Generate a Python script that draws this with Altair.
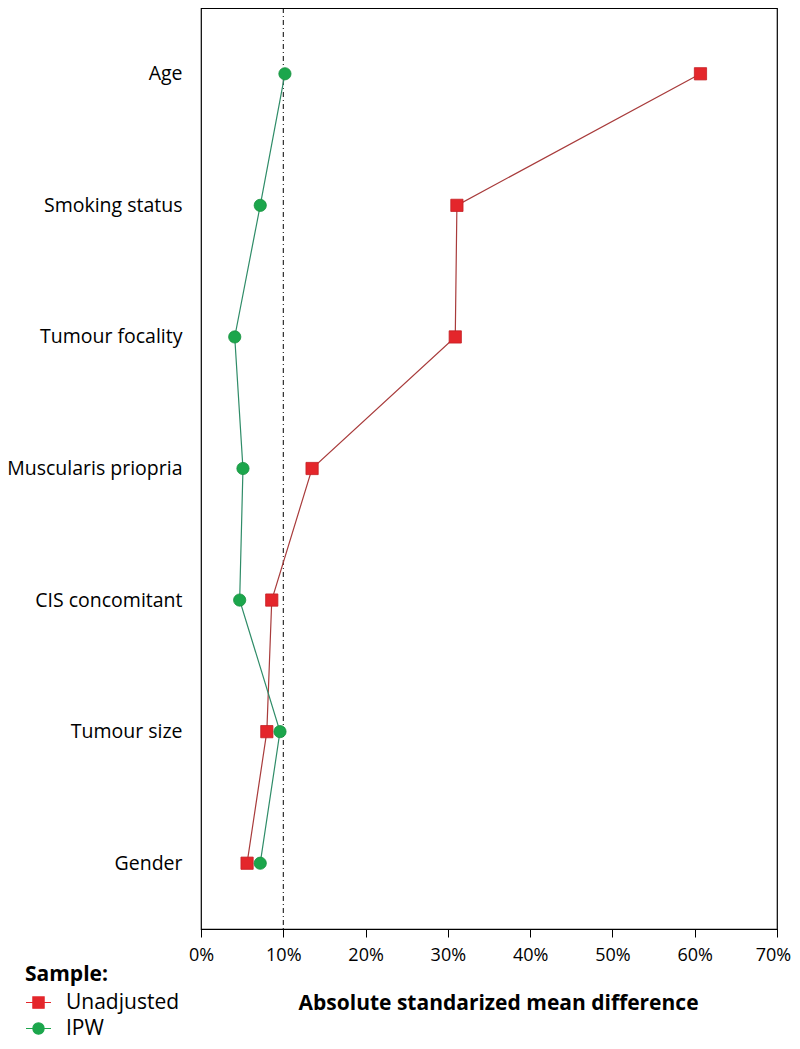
import altair as alt
import pandas as pd

categories = ["Age", "Smoking status", "Tumour focality", "Muscularis priopria",
              "CIS concomitant", "Tumour size", "Gender"]
unadjusted = [60.7, 31.1, 30.9, 13.5, 8.6, 8.0, 5.6]
ipw = [10.2, 7.2, 4.1, 5.1, 4.7, 9.6, 7.2]
samples = ["Unadjusted", "IPW"]
threshold = [10]
x_ticks = [0, 10, 20, 30, 40, 50, 60, 70]

RED = "#e4262b"
RED_LINE = "#a83b3b"
GREEN = "#1ca64c"
GREEN_LINE = "#2f8c68"
FONT = "Open Sans"

rows = []
for i, c in enumerate(categories):
    rows.append({"variable": c, "sample": "Unadjusted", "value": unadjusted[i] / 100, "order": i})
    rows.append({"variable": c, "sample": "IPW", "value": ipw[i] / 100, "order": i})
df = pd.DataFrame(rows)

xscale = alt.Scale(domain=[0, 0.7], nice=False)
yscale = alt.Scale(type="point", padding=0.5, domain=categories)

xenc = alt.X("value:Q", scale=xscale,
             axis=alt.Axis(values=[t / 100 for t in x_ticks], format=".0%", grid=False,
                           title="Absolute standarized mean difference",
                           titleFont=FONT, titleFontSize=21, titleFontWeight="bold",
                           titleAlign="left", titleX=97, titleY=74, titleBaseline="middle",
                           titleColor="black",
                           labelFont=FONT, labelFontSize=18, labelColor="black",
                           labelPadding=9, tickSize=8, tickColor="black",
                           labelOffset={"expr": "datum.value >= 0.69 ? -4 : 0"},
                           domainColor="black", labelFlush=False))
yenc = alt.Y("variable:N", scale=yscale, sort=categories,
             axis=alt.Axis(title=None, ticks=False, domain=False, grid=False,
                           labelFont=FONT, labelFontSize=19.5, labelColor="black",
                           labelPadding=19))

base = alt.Chart(df)

rule = alt.Chart(pd.DataFrame({"value": [t / 100 for t in threshold]})).mark_rule(
    color="black", strokeWidth=1, strokeDash=[5, 3, 1, 3]
).encode(x=alt.X("value:Q", scale=xscale))

line_u = base.transform_filter(alt.datum.sample == "Unadjusted").mark_line(
    color=RED_LINE, strokeWidth=1.2).encode(x=xenc, y=yenc, order="order:Q")
line_i = base.transform_filter(alt.datum.sample == "IPW").mark_line(
    color=GREEN_LINE, strokeWidth=1.2).encode(x=xenc, y=yenc, order="order:Q")

pt_u = base.transform_filter(alt.datum.sample == "Unadjusted").mark_point(
    shape="square", filled=True, size=150, color=RED, opacity=1,
    stroke="#c51f24", strokeWidth=0.8).encode(x=xenc, y=yenc)
pt_i = base.transform_filter(alt.datum.sample == "IPW").mark_point(
    shape="circle", filled=True, size=150, color=GREEN, opacity=1,
    stroke="#16923f", strokeWidth=0.8).encode(x=xenc, y=yenc)

sq_path = "M-1,0L-0.45,0M0.45,0L1,0M-0.45,-0.45L0.45,-0.45L0.45,0.45L-0.45,0.45Z"
ci_path = ("M-1,0L-0.45,0M0.45,0L1,0M-0.45,0A0.45,0.45 0 1,0 0.45,0"
           "A0.45,0.45 0 1,0 -0.45,0Z")

leg = alt.Legend(title="Sample:", orient="none", legendX=-176, legendY=956,
                 titleFont=FONT, titleFontSize=21, titleFontWeight="bold",
                 titleColor="black", titlePadding=4,
                 labelFont=FONT, labelFontSize=21, labelColor="black",
                 labelOffset=14, symbolSize=625, symbolStrokeWidth=1.2,
                 rowPadding=2, padding=0, symbolOpacity=1)

legend_layer = base.mark_point(filled=True, clip=True, size=625, opacity=1).encode(
    x=alt.X("offx:Q", scale=xscale),
    y=yenc,
    fill=alt.Fill("sample:N", scale=alt.Scale(domain=samples, range=[RED, GREEN]), legend=leg),
    stroke=alt.Stroke("sample:N", scale=alt.Scale(domain=samples, range=[RED, GREEN]), legend=leg),
    shape=alt.Shape("sample:N", scale=alt.Scale(domain=samples, range=[sq_path, ci_path]), legend=leg),
).transform_calculate(offx="-1")

chart = alt.layer(rule, line_u, line_i, pt_u, pt_i, legend_layer).properties(
    width=576, height=921,
    autosize=alt.AutoSizeParams(type="none"),
    padding={"left": 193, "top": 0, "right": 15, "bottom": 111},
).configure(background="white").configure_view(stroke="black", strokeWidth=1.2)

chart.save("out.html", embed_options={"renderer": "svg", "actions": False})
